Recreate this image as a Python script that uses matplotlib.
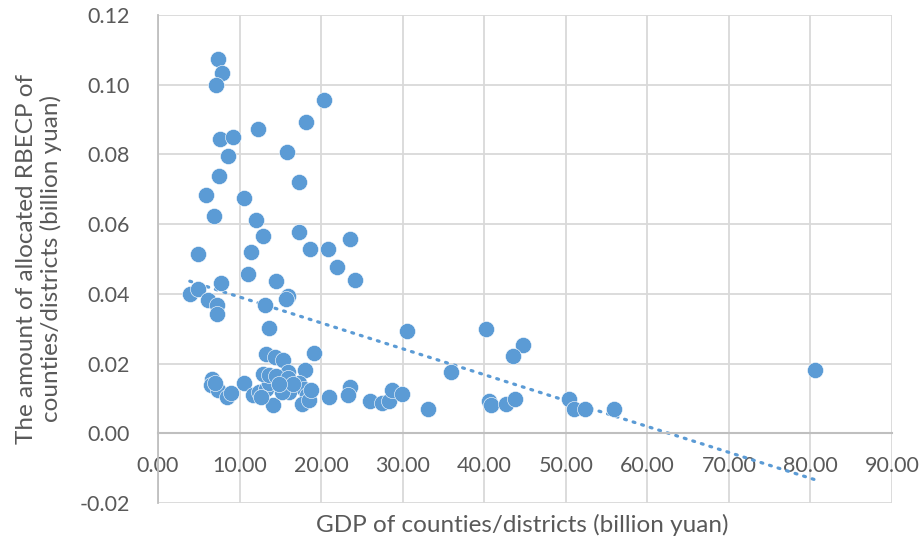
import numpy as np
from matplotlib import pyplot as plt

# GDP of counties/districts (billion yuan)
gdp = [7.35, 7.9, 7.15, 20.3, 18.2, 12.3, 7.65, 9.2, 15.8, 8.6,
       7.5, 17.3, 5.9, 10.6, 6.9, 12.0, 17.3, 12.85, 23.5, 18.6,
       20.8, 11.35, 4.96, 21.95, 11.0, 24.1, 14.5, 7.7, 3.9, 4.96,
       6.1, 7.2, 7.2, 15.9, 15.7, 13.1, 13.6,
       30.5, 40.2, 44.8, 43.5, 19.15, 13.2, 14.3, 15.3, 18.0, 35.9, 80.6,
       6.67, 6.55, 7.36, 8.5, 9.0, 10.6, 11.6, 12.4, 13.25, 13.6,
       12.85, 13.65, 14.05, 15.3, 15.7, 15.9, 16.1, 17.3, 17.9, 18.3,
       17.7, 18.5, 21.0, 23.5, 23.3, 26.05, 27.5, 28.3, 28.7, 29.9,
       33.1, 40.6, 40.8, 42.7, 43.8, 50.45, 51.0, 52.4, 55.9,
       7.0, 14.5, 16.0, 15.2, 16.5, 18.8, 12.6, 14.8]
# allocated RBECP (billion yuan)
rbecp = [0.1075, 0.1034, 0.1000, 0.0955, 0.0894, 0.0873, 0.0845, 0.0849, 0.0807, 0.0796,
         0.0739, 0.0720, 0.0683, 0.0676, 0.0624, 0.0612, 0.0577, 0.0566, 0.0558, 0.0528,
         0.0528, 0.0519, 0.0514, 0.0476, 0.0457, 0.0441, 0.0437, 0.0431, 0.0399, 0.0413,
         0.0382, 0.0368, 0.0341, 0.0395, 0.0385, 0.0368, 0.0301,
         0.0294, 0.0298, 0.0253, 0.0221, 0.0229, 0.0227, 0.0219, 0.0210, 0.0181, 0.0176, 0.0181,
         0.0157, 0.0138, 0.0124, 0.0104, 0.0115, 0.0143, 0.0109, 0.0119, 0.0128, 0.0143,
         0.0171, 0.0167, 0.0080, 0.0133, 0.0152, 0.0176, 0.0119, 0.0143, 0.0128, 0.0109,
         0.0085, 0.0095, 0.0104, 0.0133, 0.0109, 0.0093, 0.0088, 0.0093, 0.0124, 0.0112,
         0.0071, 0.0093, 0.0080, 0.0085, 0.0098, 0.0099, 0.0071, 0.0071, 0.0071,
         0.0143, 0.0165, 0.0160, 0.0118, 0.0140, 0.0125, 0.0105, 0.0140]

x_ticks = np.arange(0, 91, 10)
y_ticks = np.arange(-0.02, 0.121, 0.02)

text_color = '#595959'
point_color = '#5b9bd5'
font = ['Lato', 'DejaVu Sans']
plt.rcParams['font.family'] = font

fig = plt.figure(figsize=(9.2, 5.43), dpi=100)
ax = fig.add_axes([158 / 920, 1 - 503 / 543, (892 - 158) / 920, (503 - 15) / 543])

ax.scatter(gdp, rbecp, s=135, color=point_color, edgecolors='white', linewidths=0.4, zorder=3)

# linear trendline
k, b = np.polyfit(gdp, rbecp, 1)
tx = np.array([min(gdp), max(gdp)])
ax.plot(tx, k * tx + b, color=point_color, lw=2.3, linestyle=(0, (0.6, 2.2)),
        dash_capstyle='round', zorder=2)

ax.set_xlim(0, 90)
ax.set_ylim(-0.02, 0.12)
ax.set_xticks(x_ticks)
ax.set_yticks(y_ticks)
ax.set_xticklabels([f'{v:.2f}' for v in x_ticks])
ax.set_yticklabels([f'{v:.2f}' for v in y_ticks])
ax.grid(True, color='#d9d9d9', lw=1.3)
ax.set_axisbelow(True)

for side in ['top', 'right']:
    ax.spines[side].set_visible(False)
ax.spines['bottom'].set_position(('data', 0))
ax.spines['bottom'].set_color('#bfbfbf')
ax.spines['bottom'].set_linewidth(1.5)
ax.spines['left'].set_color('#bfbfbf')
ax.spines['left'].set_linewidth(1.3)

ax.tick_params(axis='both', length=0, labelcolor=text_color, labelsize=15.5)
ax.tick_params(axis='x', pad=16)
ax.tick_params(axis='y', pad=20.5)

fig.text(522 / 920, 1 - 525 / 543, 'GDP of counties/districts (billion yuan)',
         ha='center', va='center', fontsize=17.5, color=text_color)
fig.text(39 / 920, 1 - 259 / 543, 'The amount of allocated RBECP of\ncounties/districts (billion yuan)',
         ha='center', va='center', rotation=90, fontsize=17.5, color=text_color,
         linespacing=1.15)

plt.savefig('out.png', dpi=100)
